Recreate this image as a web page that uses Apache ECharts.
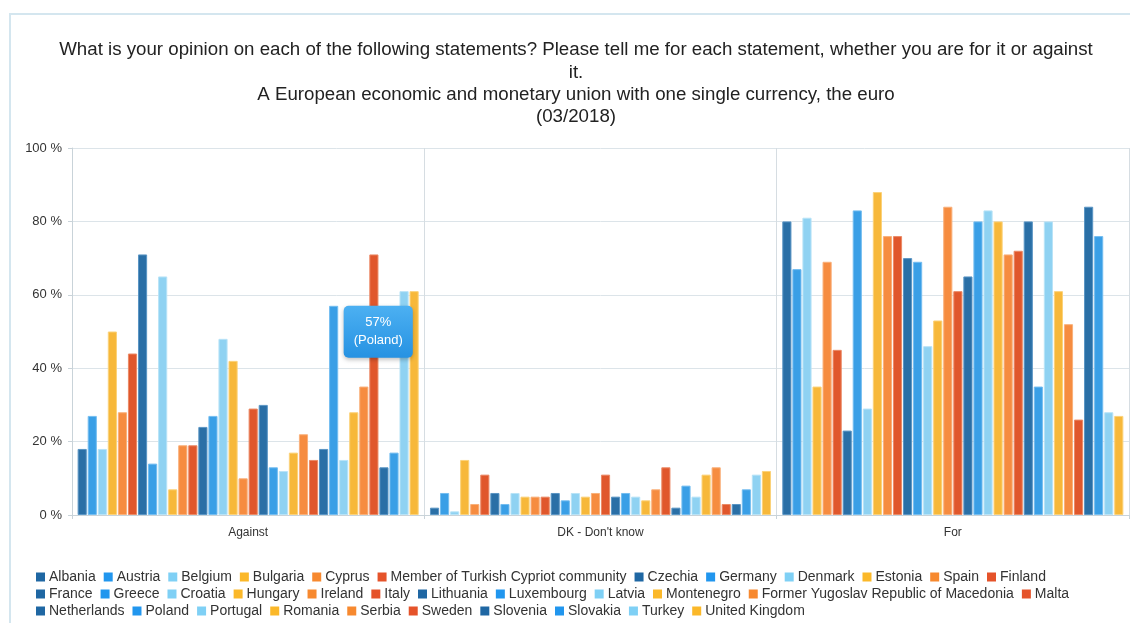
<!DOCTYPE html>
<html>
<head>
<meta charset="utf-8">
<title>Opinion on the euro (03/2018)</title>
<script src="https://cdn.jsdelivr.net/npm/echarts@6/dist/echarts.min.js"></script>
<style>
  html, body { margin: 0; padding: 0; background: #ffffff; }
  #chart { width: 1130px; height: 623px; }
</style>
</head>
<body>
<div id="chart"></div>
<script>
// Answer options shown along the x axis
const statements = ['Against', "DK - Don't know", 'For'];

// Countries, in legend order
const countries = [
  'Albania', 'Austria', 'Belgium', 'Bulgaria', 'Cyprus', 'Member of Turkish Cypriot community',
  'Czechia', 'Germany', 'Denmark', 'Estonia', 'Spain', 'Finland',
  'France', 'Greece', 'Croatia', 'Hungary', 'Ireland', 'Italy',
  'Lithuania', 'Luxembourg', 'Latvia', 'Montenegro', 'Former Yugoslav Republic of Macedonia', 'Malta',
  'Netherlands', 'Poland', 'Portugal', 'Romania', 'Serbia', 'Sweden',
  'Slovenia', 'Slovakia', 'Turkey', 'United Kingdom'
];

// Share of respondents (%) per country, one array per answer
const againstPct = [
  18, 27, 18, 50, 28, 44,
  71, 14, 65, 7, 19, 19,
  24, 27, 48, 42, 10, 29,
  30, 13, 12, 17, 22, 15,
  18, 57, 15, 28, 35, 71,
  13, 17, 61, 61
];
const dontKnowPct = [
  2, 6, 1, 15, 3, 11,
  6, 3, 6, 5, 5, 5,
  6, 4, 6, 5, 6, 11,
  5, 6, 5, 4, 7, 13,
  2, 8, 5, 11, 13, 3,
  3, 7, 11, 12
];
const forPct = [
  80, 67, 81, 35, 69, 45,
  23, 83, 29, 88, 76, 76,
  70, 69, 46, 53, 84, 61,
  65, 80, 83, 80, 71, 72,
  80, 35, 80, 61, 52, 26,
  84, 76, 28, 27
];

// Y axis range
const yTicks = { min: 0, max: 100, step: 20 };

// Legend rows (number of countries on each line)
const legendRowSizes = [12, 12, 10];

// Six-colour cycle used for the countries (fill + lighter edge)
const fills   = ['#2a6fa6', '#3a9fe6', '#8fd2f2', '#f7b83a', '#f68c40', '#e0572c'];
const edges   = ['#5a95c4', '#74bdf0', '#b8e3f7', '#fbd27a', '#f9b07a', '#eb8a66'];
const iconCol = ['#1f67a3', '#2196ee', '#7fd0f5', '#fbb829', '#f7892f', '#e5532a'];

const FONT = '"Liberation Sans", Arial, Helvetica, sans-serif';

const series = countries.map(function (name, i) {
  const values = [againstPct[i], dontKnowPct[i], forPct[i]];
  const data = values.map(function (v, k) {
    if (name === 'Poland' && k === 0) {
      // callout box next to the Poland "Against" bar
      return {
        value: v,
        label: {
          show: true,
          formatter: '{c}%\n({a})',
          position: ['100%', 0],
          offset: [40, 0],
          align: 'center',
          verticalAlign: 'top',
          color: '#ffffff',
          fontFamily: FONT,
          fontSize: 13,
          lineHeight: 18,
          padding: [8, 10],
          borderRadius: 5,
          backgroundColor: {
            type: 'linear', x: 0, y: 0, x2: 0, y2: 1,
            colorStops: [{ offset: 0, color: '#4cb0f2' }, { offset: 1, color: '#2692e2' }]
          },
          shadowBlur: 4,
          shadowOffsetY: 2,
          shadowColor: 'rgba(0,0,0,0.25)'
        }
      };
    }
    return v;
  });
  return {
    name: name,
    type: 'bar',
    z: name === 'Poland' ? 3 : 2,
    barGap: '10%',
    barCategoryGap: '3.2%',
    itemStyle: {
      color: fills[i % 6],
      borderColor: edges[i % 6],
      borderWidth: 1
    },
    emphasis: { disabled: true },
    data: data
  };
});

// One legend component per row so the line breaks stay fixed
const legends = [];
let start = 0;
legendRowSizes.forEach(function (size, row) {
  legends.push({
    data: countries.slice(start, start + size).map(function (n, j) {
      return { name: n, itemStyle: { color: iconCol[(start + j) % 6], borderWidth: 0 } };
    }),
    left: 36,
    top: 570 + row * 17,
    orient: 'horizontal',
    padding: 0,
    icon: 'rect',
    itemWidth: 9,
    itemHeight: 9,
    itemGap: 8,
    textStyle: {
      fontFamily: FONT,
      fontSize: 14,
      color: '#333333',
      padding: [0, 0, 0, -1]
    }
  });
  start += size;
});

const chart = echarts.init(document.getElementById('chart'), null, { renderer: 'canvas' });

chart.setOption({
  animation: false,
  backgroundColor: '#ffffff',
  color: iconCol,
  title: {
    text: 'What is your opinion on each of the following statements? Please tell me for each statement, whether you are for it or against\nit.\nA European economic and monetary union with one single currency, the euro\n(03/2018)',
    left: 571,
    textAlign: 'center',
    top: 34,
    textStyle: {
      fontFamily: FONT,
      fontSize: 18.7,
      fontWeight: 'normal',
      color: '#222222',
      lineHeight: 22.3
    }
  },
  graphic: [{
    type: 'rect',
    silent: true,
    z: -10,
    shape: { x: 10, y: 14, width: 1140, height: 640 },
    style: { fill: 'none', stroke: '#d4e6ef', lineWidth: 2 }
  }],
  legend: legends,
  grid: { left: 72, right: 1, top: 148, bottom: 108, containLabel: false },
  xAxis: {
    type: 'category',
    data: statements,
    axisLine: { lineStyle: { color: '#c9d3d9' } },
    axisTick: { show: true, length: 4, lineStyle: { color: '#c9d3d9' } },
    splitLine: { show: true, lineStyle: { color: '#d6dde2', width: 1 } },
    axisLabel: { fontFamily: FONT, fontSize: 12, color: '#333333', margin: 12 }
  },
  yAxis: {
    type: 'value',
    min: yTicks.min,
    max: yTicks.max,
    interval: yTicks.step,
    axisLine: { show: true, lineStyle: { color: '#c9d3d9' } },
    axisTick: { show: true, length: 4, lineStyle: { color: '#c9d3d9' } },
    splitLine: { lineStyle: { color: '#dce4e9' } },
    axisLabel: { formatter: '{value} %', fontFamily: FONT, fontSize: 13, color: '#333333', margin: 10 }
  },
  series: series
});
</script>
</body>
</html>
